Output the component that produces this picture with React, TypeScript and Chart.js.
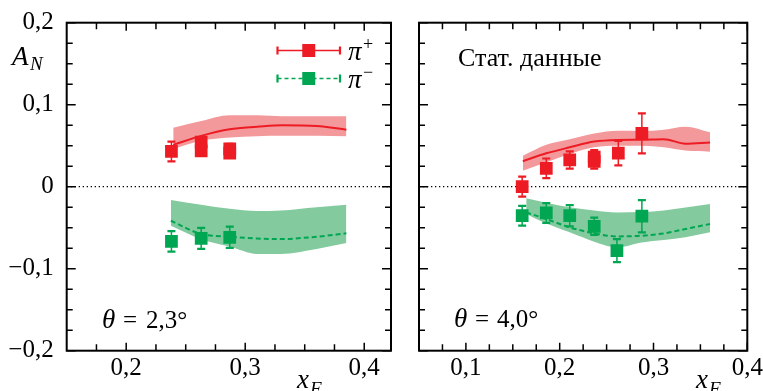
import React, { useEffect, useRef } from 'react';
import { Chart, registerables } from 'chart.js';

Chart.register(...registerables);

// ---------- colours / fonts ----------
const RED = '#ED1C24';
const RED_BAND = '#F4999B';
const GREEN = '#00A651';
const GREEN_BAND = '#84CA9F';
const FONT = "'Liberation Serif', 'DejaVu Serif', serif";

// ---------- axes ----------
const yTicks = [-0.2, -0.1, 0, 0.1, 0.2];
const yMinorTicks = [-0.175, -0.15, -0.125, -0.075, -0.05, -0.025, 0.025, 0.05, 0.075, 0.125, 0.15, 0.175];
const leftXRange = [0.15, 0.4225];
const leftXTicks = [0.2, 0.3, 0.4];
const leftXMinorTicks = [0.175, 0.225, 0.25, 0.275, 0.325, 0.35, 0.375];
const rightXRange = [0.05, 0.4];
const rightXTicks = [0.1, 0.2, 0.3, 0.4];
const rightXMinorTicks = [0.075, 0.125, 0.15, 0.175, 0.225, 0.25, 0.275, 0.325, 0.35, 0.375];

// ---------- series names ----------
const seriesNames = ['π', 'π'];
const seriesCharges = ['+', '−'];
const leftLabel = ['θ', '=', '2,3°'];
const rightLabel = ['θ', '=', '4,0°'];
const rightNote = 'Стат. данные';

// ---------- left panel (θ = 2.3°) ----------
const lPlusX = [0.238, 0.263, 0.263, 0.287, 0.287];
const lPlusY = [0.043, 0.0543, 0.0438, 0.0462, 0.041];
const lPlusErr = [0.012, 0.006, 0.006, 0.006, 0.006];
const lMinusX = [0.238, 0.263, 0.287];
const lMinusY = [-0.0666, -0.063, -0.0617];
const lMinusErr = [0.0125, 0.0128, 0.013];

const lPlusCurveX = [0.2395, 0.263, 0.287, 0.31, 0.331, 0.36, 0.385];
const lPlusCurveY = [0.051, 0.062, 0.07, 0.073, 0.075, 0.074, 0.0695];
const lPlusBandHi = [0.072, 0.08, 0.087, 0.087, 0.086, 0.086, 0.086];
const lPlusBandLo = [0.046, 0.056, 0.06, 0.0615, 0.062, 0.062, 0.0615];

const lMinusCurveX = [0.2375, 0.263, 0.287, 0.31, 0.33, 0.36, 0.385];
const lMinusCurveY = [-0.0415, -0.0577, -0.061, -0.0632, -0.0638, -0.061, -0.0569];
const lMinusBandHi = [-0.0162, -0.022, -0.027, -0.0296, -0.029, -0.025, -0.022];
const lMinusBandLo = [-0.0476, -0.064, -0.073, -0.082, -0.082, -0.076, -0.0687];

// ---------- right panel (θ = 4.0°) ----------
const rPlusX = [0.16, 0.1857, 0.2107, 0.2368, 0.2368, 0.2625, 0.2876];
const rPlusY = [0.0, 0.0224, 0.0326, 0.036, 0.031, 0.041, 0.065];
const rPlusErr = [0.0122, 0.012, 0.0106, 0.0085, 0.009, 0.015, 0.0243];
const rMinusX = [0.16, 0.1857, 0.2107, 0.2368, 0.261, 0.2876];
const rMinusY = [-0.0354, -0.032, -0.0354, -0.0483, -0.078, -0.036];
const rMinusErr = [0.012, 0.012, 0.013, 0.0105, 0.014, 0.0197];

const rPlusCurveX = [0.1607, 0.1857, 0.2107, 0.2368, 0.2625, 0.2876, 0.311, 0.334, 0.3603];
const rPlusCurveY = [0.031, 0.0407, 0.048, 0.055, 0.057, 0.0573, 0.058, 0.0525, 0.054];
const rPlusBandHi = [0.0378, 0.0512, 0.058, 0.065, 0.0683, 0.068, 0.0695, 0.0732, 0.0663];
const rPlusBandLo = [0.0195, 0.0297, 0.04, 0.048, 0.05, 0.05, 0.048, 0.044, 0.0427];

const rMinusCurveX = [0.1643, 0.1857, 0.2107, 0.2368, 0.261, 0.2876, 0.311, 0.334, 0.3603];
const rMinusCurveY = [-0.0313, -0.0394, -0.0496, -0.0569, -0.0606, -0.0598, -0.0569, -0.0516, -0.0455];
const rMinusBandHi = [-0.0142, -0.0195, -0.0252, -0.029, -0.0315, -0.031, -0.029, -0.0255, -0.0211];
const rMinusBandLo = [-0.0333, -0.045, -0.0557, -0.067, -0.0739, -0.0679, -0.065, -0.0617, -0.0557];

// ---------- helpers ----------
const pts = (xs: number[], ys: number[]) => xs.map((x, i) => ({ x, y: ys[i] }));

const fmtTick = (v: number) => {
  if (Math.abs(v) < 1e-9) return '0';
  return (v < 0 ? '−' : '') + Math.abs(v).toFixed(1).replace('.', ',');
};

function text(ctx: CanvasRenderingContext2D, s: string, x: number, y: number, size: number, italic = false) {
  ctx.font = `${italic ? 'italic ' : ''}${size}px ${FONT}`;
  ctx.fillStyle = '#000';
  ctx.textAlign = 'left';
  ctx.textBaseline = 'alphabetic';
  ctx.fillText(s, x, y);
}

function bandSets(xs: number[], hi: number[], lo: number[], color: string) {
  return [
    {
      data: pts(xs, hi), fill: '+1', backgroundColor: color, borderColor: 'rgba(0,0,0,0)', borderWidth: 0,
      pointRadius: 0, cubicInterpolationMode: 'monotone', order: 3,
    },
    {
      data: pts(xs, lo), fill: false, borderColor: 'rgba(0,0,0,0)', borderWidth: 0,
      pointRadius: 0, cubicInterpolationMode: 'monotone', order: 3,
    },
  ];
}

function curveSet(xs: number[], ys: number[], color: string, dashed: boolean) {
  return {
    data: pts(xs, ys), fill: false, borderColor: color, borderWidth: 2, borderDash: dashed ? [5, 3] : [],
    pointRadius: 0, cubicInterpolationMode: 'monotone', order: 1,
  };
}

function pointSet(xs: number[], ys: number[], err: number[], color: string) {
  return {
    data: pts(xs, ys), errors: err, showLine: false, pointStyle: 'rect', pointRadius: 9,
    backgroundColor: color, borderWidth: 0, pointBorderWidth: 0, color, order: 0,
  };
}

function zeroSet(range: number[]) {
  return {
    data: [{ x: range[0], y: 0 }, { x: range[1], y: 0 }], borderColor: '#000', borderWidth: 1.3,
    borderDash: [1.3, 2.7], pointRadius: 0, fill: false, order: 2,
  };
}

function drawErrorBar(ctx: CanvasRenderingContext2D, px: number, yTop: number, yBot: number, color: string) {
  ctx.save();
  ctx.strokeStyle = color;
  ctx.lineWidth = 1.5;
  ctx.beginPath();
  ctx.moveTo(px, yTop);
  ctx.lineTo(px, yBot);
  ctx.stroke();
  ctx.lineWidth = 2.2;
  ctx.beginPath();
  ctx.moveTo(px - 4, yTop);
  ctx.lineTo(px + 4, yTop);
  ctx.moveTo(px - 4, yBot);
  ctx.lineTo(px + 4, yBot);
  ctx.stroke();
  ctx.restore();
}

const errorBarPlugin = {
  id: 'errbars',
  beforeDatasetDraw(chart: any, args: any) {
    const ds = chart.data.datasets[args.index];
    if (!ds.errors) return;
    const xs = chart.scales.x, ys = chart.scales.y;
    const ctx = chart.ctx;
    ds.data.forEach((p: any, i: number) => {
      const e = ds.errors[i];
      drawErrorBar(ctx, xs.getPixelForValue(p.x), ys.getPixelForValue(p.y + e), ys.getPixelForValue(p.y - e), ds.color);
    });
  },
};

function drawFrame(chart: any, xMajor: number[], xMinor: number[]) {
  const { ctx, chartArea: a, scales } = chart;
  const xs = scales.x, ys = scales.y;
  ctx.save();
  ctx.strokeStyle = '#000';
  ctx.lineWidth = 1.5;
  ctx.beginPath();
  const yt = (v: number, len: number) => {
    const p = ys.getPixelForValue(v);
    ctx.moveTo(a.left, p); ctx.lineTo(a.left + len, p);
    ctx.moveTo(a.right, p); ctx.lineTo(a.right - len, p);
  };
  const xt = (v: number, len: number) => {
    const p = xs.getPixelForValue(v);
    ctx.moveTo(p, a.bottom); ctx.lineTo(p, a.bottom - len);
    ctx.moveTo(p, a.top); ctx.lineTo(p, a.top + len);
  };
  yTicks.forEach((v) => yt(v, 9));
  yMinorTicks.forEach((v) => yt(v, 6));
  xMajor.forEach((v) => xt(v, 8));
  xMinor.forEach((v) => xt(v, 6.5));
  ctx.stroke();
  ctx.lineWidth = 2;
  ctx.strokeRect(a.left, a.top, a.right - a.left, a.bottom - a.top);
  ctx.restore();
}

function drawLegendEntry(ctx: CanvasRenderingContext2D, x0: number, x1: number, y: number, color: string, dashed: boolean, name: string, charge: string) {
  ctx.save();
  ctx.strokeStyle = color;
  ctx.lineWidth = 1.5;
  ctx.setLineDash(dashed ? [4, 3] : []);
  ctx.beginPath();
  ctx.moveTo(x0, y); ctx.lineTo(x1, y);
  ctx.stroke();
  ctx.setLineDash([]);
  ctx.lineWidth = 2.2;
  ctx.beginPath();
  ctx.moveTo(x0, y - 4); ctx.lineTo(x0, y + 4);
  ctx.moveTo(x1, y - 4); ctx.lineTo(x1, y + 4);
  ctx.stroke();
  ctx.fillStyle = color;
  const cx = (x0 + x1) / 2;
  ctx.fillRect(cx - 6.5, y - 6.5, 13, 13);
  ctx.restore();
  text(ctx, name, x1 + 8, y + 9, 27, true);
  text(ctx, charge, x1 + 23, y - 1, 18, false);
}

function xAxisCfg(range: number[], ticks: number[], showLabels: boolean) {
  return {
    type: 'linear', min: range[0], max: range[1],
    grid: { display: false, drawTicks: false }, border: { display: false },
    ticks: {
      display: showLabels, autoSkip: false, maxRotation: 0, minRotation: 0, padding: 3,
      color: '#000', font: { family: FONT, size: 25 }, callback: (v: any) => fmtTick(Number(v)),
    },
    afterBuildTicks: (s: any) => { s.ticks = ticks.map((v) => ({ value: v })); },
    afterFit: (s: any) => { s.height = 40.3; s.paddingLeft = 0; s.paddingRight = 0; },
  };
}

function yAxisCfg(width: number, showLabels: boolean) {
  return {
    type: 'linear', min: -0.2, max: 0.2,
    grid: { display: false, drawTicks: false }, border: { display: false },
    ticks: {
      display: showLabels, autoSkip: false, padding: 13,
      color: '#000', font: { family: FONT, size: 25 }, callback: (v: any) => fmtTick(Number(v)),
    },
    afterBuildTicks: (s: any) => { s.ticks = yTicks.map((v) => ({ value: v })); },
    afterFit: (s: any) => { s.width = width; s.paddingTop = 0; s.paddingBottom = 0; },
  };
}

function leftConfig(): any {
  return {
    type: 'line',
    data: {
      datasets: [
        pointSet(lPlusX, lPlusY, lPlusErr, RED),
        pointSet(lMinusX, lMinusY, lMinusErr, GREEN),
        curveSet(lPlusCurveX, lPlusCurveY, RED, false),
        curveSet(lMinusCurveX, lMinusCurveY, GREEN, true),
        zeroSet(leftXRange),
        ...bandSets(lPlusCurveX, lPlusBandHi, lPlusBandLo, RED_BAND),
        ...bandSets(lMinusCurveX, lMinusBandHi, lMinusBandLo, GREEN_BAND),
      ],
    },
    options: {
      animation: false, responsive: false,
      layout: { padding: { left: 0, top: 22.7, right: 6.5, bottom: 0 } },
      plugins: { legend: { display: false }, tooltip: { enabled: false } },
      scales: { x: xAxisCfg(leftXRange, leftXTicks, true), y: yAxisCfg(66.7, true) },
    },
    plugins: [
      errorBarPlugin,
      {
        id: 'decor',
        afterDraw(chart: any) {
          const ctx = chart.ctx;
          drawFrame(chart, leftXTicks, leftXMinorTicks);
          text(ctx, 'A', 12, 65, 27, true);
          text(ctx, 'N', 30, 70, 19, true);
          text(ctx, 'x', 297, 388, 27, true);
          text(ctx, 'F', 310, 395, 19, true);
          drawLegendEntry(ctx, 277.5, 340, 50.5, RED, false, seriesNames[0], seriesCharges[0]);
          drawLegendEntry(ctx, 277.5, 340, 78.5, GREEN, true, seriesNames[1], seriesCharges[1]);
          text(ctx, leftLabel[0], 102, 328, 27, true);
          text(ctx, leftLabel[1], 123, 328, 25, false);
          text(ctx, leftLabel[2], 146, 328, 25, false);
        },
      },
    ],
  };
}

function rightConfig(): any {
  return {
    type: 'line',
    data: {
      datasets: [
        pointSet(rPlusX, rPlusY, rPlusErr, RED),
        pointSet(rMinusX, rMinusY, rMinusErr, GREEN),
        curveSet(rPlusCurveX, rPlusCurveY, RED, false),
        curveSet(rMinusCurveX, rMinusCurveY, GREEN, true),
        zeroSet(rightXRange),
        ...bandSets(rPlusCurveX, rPlusBandHi, rPlusBandLo, RED_BAND),
        ...bandSets(rMinusCurveX, rMinusBandHi, rMinusBandLo, GREEN_BAND),
      ],
    },
    options: {
      animation: false, responsive: false,
      layout: { padding: { left: 0, top: 22.7, right: 15.7, bottom: 0 } },
      plugins: { legend: { display: false }, tooltip: { enabled: false } },
      scales: { x: xAxisCfg(rightXRange, rightXTicks, true), y: yAxisCfg(19, false) },
    },
    plugins: [
      errorBarPlugin,
      {
        id: 'decor',
        afterDraw(chart: any) {
          const ctx = chart.ctx;
          drawFrame(chart, rightXTicks, rightXMinorTicks);
          text(ctx, 'x', 296, 388, 27, true);
          text(ctx, 'F', 309, 395, 19, true);
          text(ctx, rightNote, 58, 66, 26, false);
          text(ctx, rightLabel[0], 54, 327, 27, true);
          text(ctx, rightLabel[1], 75, 327, 25, false);
          text(ctx, rightLabel[2], 97, 327, 25, false);
        },
      },
    ],
  };
}

function ChartCanvas({ config, left, width }: { config: () => any; left: number; width: number }) {
  const ref = useRef<HTMLCanvasElement | null>(null);
  useEffect(() => {
    let chart: Chart | null = null;
    let cancelled = false;
    const make = () => {
      if (cancelled || !ref.current) return;
      chart = new Chart(ref.current, config());
    };
    const fonts: any = (document as any).fonts;
    if (fonts && fonts.load) {
      Promise.all([
        fonts.load("24px 'Liberation Serif'", 'Стат0,2'),
        fonts.load("italic 24px 'Liberation Serif'", 'AθπxF'),
      ]).then(make, make);
    } else {
      make();
    }
    return () => {
      cancelled = true;
      if (chart) chart.destroy();
    };
  }, []);
  return (
    <canvas
      ref={ref}
      width={width}
      height={391}
      style={{ position: 'absolute', left, top: 0, width, height: 391 }}
    />
  );
}

export default function App() {
  return (
    <div style={{ position: 'fixed', left: 0, top: 0, width: 763, height: 391, overflow: 'hidden', background: '#fff' }}>
      <ChartCanvas config={leftConfig} left={0} width={400} />
      <ChartCanvas config={rightConfig} left={400} width={363} />
    </div>
  );
}
